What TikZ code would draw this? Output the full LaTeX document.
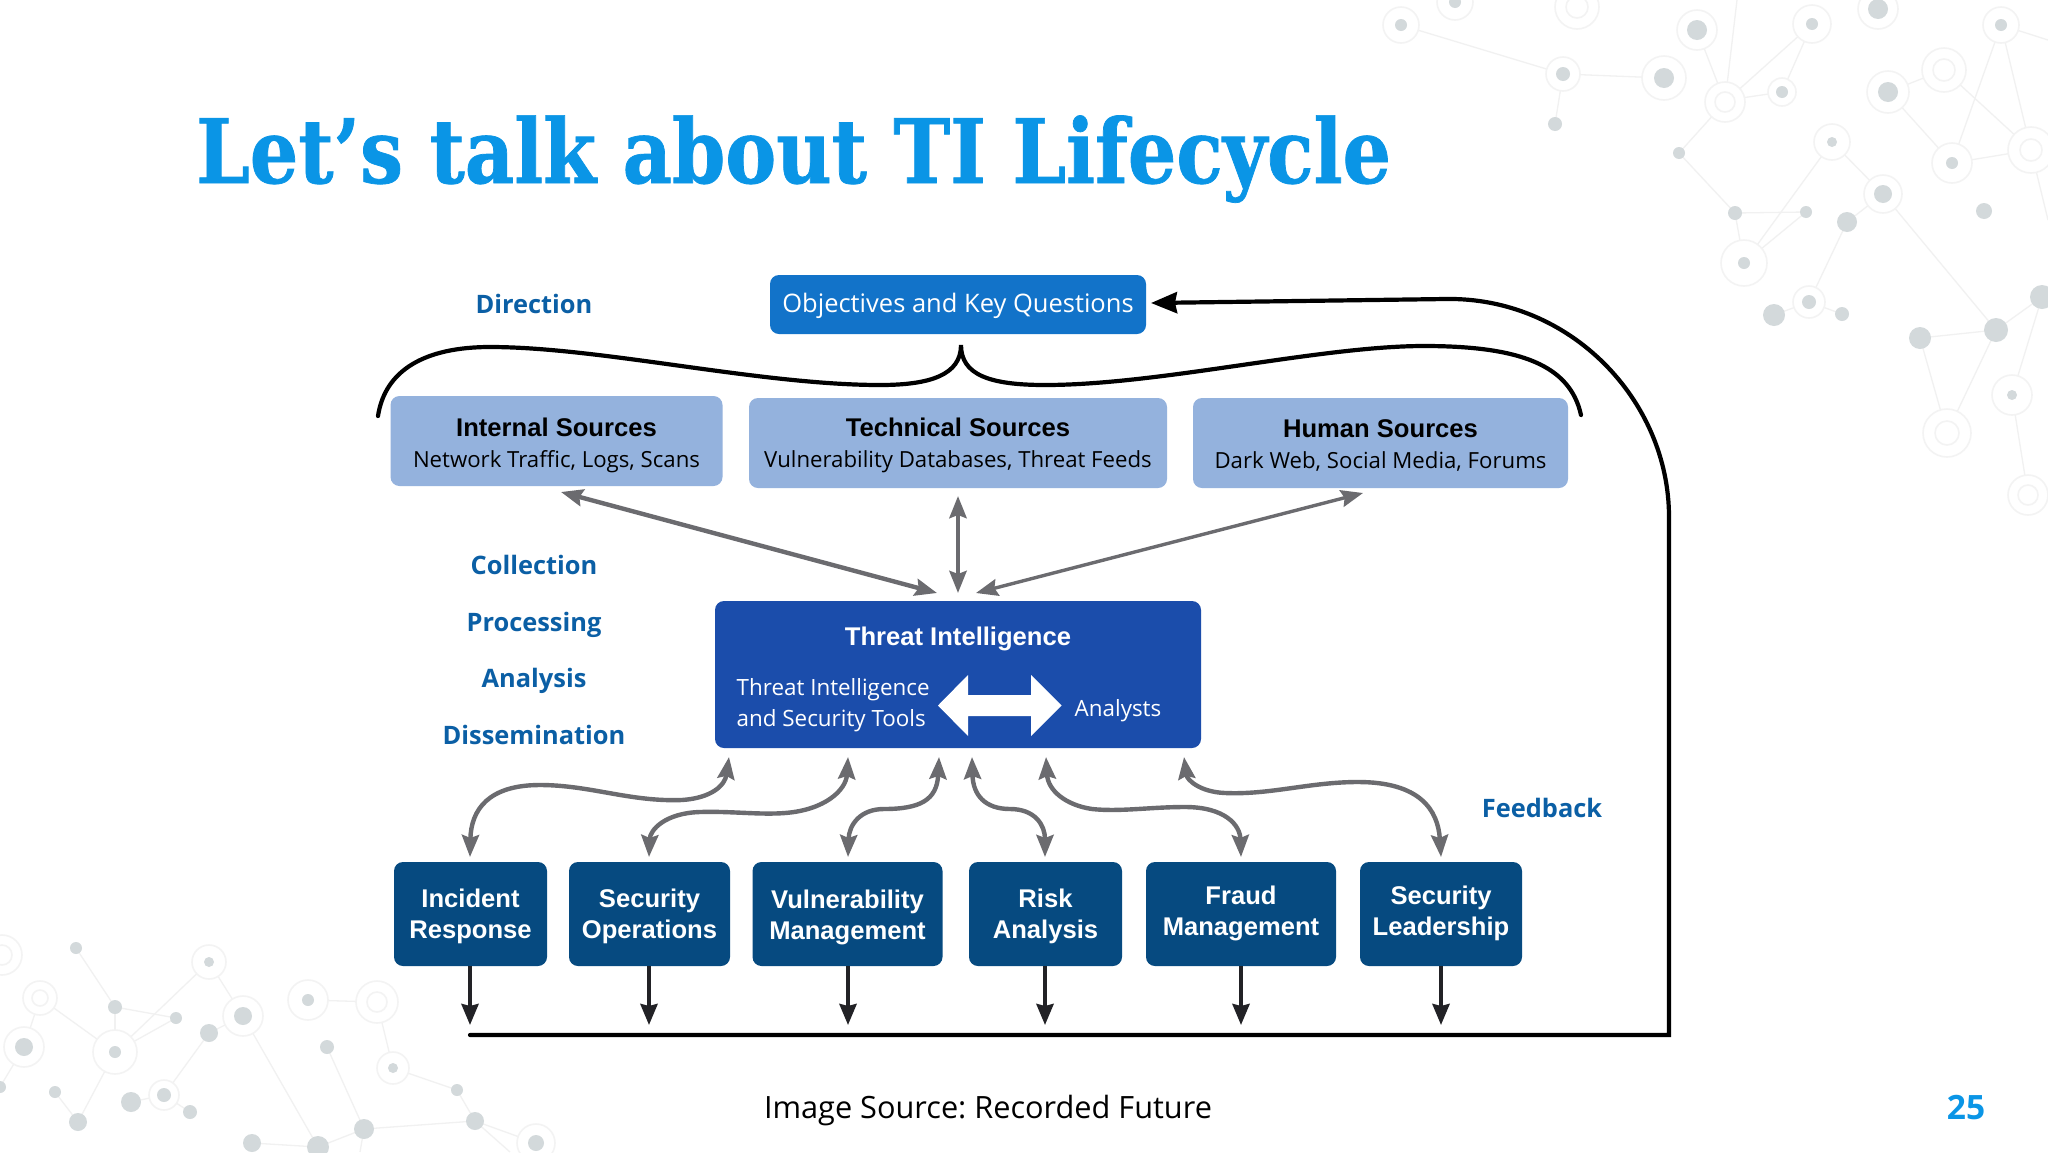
\documentclass[tikz,border=0pt]{standalone}
\usepackage{fontspec}
\setmainfont{Open Sans}
\newfontfamily\titlefont[FakeStretch=0.857,FakeBold=0.8]{DejaVu Serif}
\newfontfamily\helv{Liberation Sans}
\usetikzlibrary{arrows.meta,calc}
\definecolor{titleblue}{HTML}{0A95E6}
\definecolor{labelblue}{HTML}{0B5FA5}
\definecolor{objblue}{HTML}{1273C9}
\definecolor{srcblue}{HTML}{94B2DD}
\definecolor{tiblue}{HTML}{1B4DAB}
\definecolor{funcblue}{HTML}{064A80}
\definecolor{arrgrey}{HTML}{6B6B6F}
\definecolor{arrblack}{HTML}{222226}
\definecolor{netline}{HTML}{F1F1F1}
\definecolor{netring}{HTML}{F3F3F3}
\definecolor{netdot}{HTML}{D3D9DB}
\tikzset{
  x=1pt,y=-1pt,
  box/.style={draw=none,rounded corners=9pt,minimum width=#1,inner sep=0pt,align=center},
  srcbox/.style={fill=srcblue,minimum height=90pt},
  srclabel/.style={text=black,inner sep=0pt,align=center,font=\fontsize{22.2}{31}\selectfont},
  funcbox/.style={fill=funcblue,minimum height=104pt},
  funclabel/.style={text=white,inner sep=0pt,align=center,font=\helv\bfseries\fontsize{25.6}{31}\selectfont},
  stage/.style={text=labelblue,font=\bfseries\fontsize{25.4}{30}\selectfont},
  twoway/.style={draw=arrgrey,line width=4.4pt,{Stealth[length=22pt,width=17pt,inset=3pt]}-{Stealth[length=22pt,width=17pt,inset=3pt]}},
  downarr/.style={draw=arrblack,line width=4pt,-{Stealth[length=21pt,width=17pt,inset=2pt]}},
  loopline/.style={draw=black,line width=4.2pt},
  netedge/.style={draw=netline,line width=1.3pt},
}
\newcommand{\srcnode}[7]{% name, x, y, width, text y, bold line, plain line
  \node[box=#4,srcbox] (#1) at (#2,#3) {};
  \node[srclabel] (#1t) at (#2,#5) {{\helv\bfseries\fontsize{25.6}{31}\selectfont #6}\\#7};
}
\newcommand{\funcnode}[5]{% name, x, width, text y, text
  \node[box=#3,funcbox] (#1) at (#2,914) {};
  \node[funclabel] (#1t) at (#2,#4) {#5};
}
\begin{document}
\frenchspacing
\begin{tikzpicture}
\path[use as bounding box] (0,0) rectangle (2048,1152);
\fill[white] (0,0) rectangle (2048,1152);

% network decoration
\foreach \ax/\ay/\bx/\by in {
 1401/25/1563/74, 1563/74/1664/78, 1563/74/1555/124, 1697/30/1725/102, 1737/0/1725/102,
 1725/102/1812/24, 1728/100/1782/92, 1812/24/1782/92, 1725/102/1679/153, 1679/153/1735/213,
 1735/213/1806/212, 1735/213/1744/263, 1832/142/1744/263, 1806/212/1744/263, 1832/142/1883/194,
 1883/194/1847/222, 1847/222/1809/302, 1883/194/1996/330, 1809/302/1774/315, 1809/302/1842/314,
 1888/92/1944/70, 1888/92/1952/163, 1944/70/2031/150, 1952/163/2031/150, 2001/25/1952/163,
 2001/25/2031/150, 2001/25/2048/40, 2031/150/2048/220, 1996/330/2042/297, 1996/330/1920/338,
 1920/338/1947/433, 1996/330/1947/433, 2042/297/2012/395, 2012/395/2028/495,
 76/948/115/1007, 115/1007/176/1018, 115/1007/115/1052, 209/962/115/1052, 176/1018/115/1052,
 40/998/115/1052, 209/962/243/1016, 243/1016/209/1033, 209/1033/164/1095, 164/1095/131/1102,
 164/1095/190/1112, 115/1052/78/1122, 78/1122/55/1092, 24/1047/40/998, 24/1047/0/1087,
 308/1000/377/1002, 377/1002/393/1068, 393/1068/457/1090, 457/1090/475/1121, 475/1121/364/1129,
 364/1129/327/1047, 364/1129/318/1147, 318/1147/252/1143, 243/1016/318/1147, 475/1121/536/1143,
 475/1121/510/1152, 364/1129/360/1152}
 {\draw[netedge] (\ax,\ay) -- (\bx,\by);}
% x/y/ring/dot/inner
\foreach \cx/\cy/\cr/\cd/\ci in {
 1401/25/18/6/0, 1455/2/18/6/0, 1577/7/22/0/11, 1563/74/17/7/0, 1555/124/0/7/0, 1664/78/22/10/0,
 1697/30/20/10/0, 1725/102/20/0/10, 1812/24/19/6/0, 1782/92/14/6/0, 1878/9/20/10/0, 2001/25/18/6/0,
 1944/70/22/0/11, 1888/92/21/10/0, 2031/150/23/0/11, 1952/163/20/6/0, 1679/153/0/6/0, 1832/142/18/5/0,
 1883/194/19/9/0, 1847/222/0/10/0, 1735/213/0/7/0, 1806/212/0/6/0, 1744/263/23/6/0, 1774/315/0/11/0,
 1809/302/16/7/0, 1842/314/0/7/0, 1984/211/0/8/0, 2042/297/0/12/0, 1996/330/0/12/0, 1920/338/0/11/0,
 2012/395/20/5/0, 1947/433/24/0/12, 2028/495/20/0/10,
 2/955/20/0/10, 76/948/0/6/0, 209/962/17/5/0, 40/998/17/0/8, 115/1007/0/7/0, 176/1018/0/6/0,
 243/1016/20/9/0, 308/1000/20/6/0, 377/1002/21/0/10, 24/1047/20/9/0, 115/1052/22/6/0, 209/1033/0/9/0,
 327/1047/0/7/0, 393/1068/16/5/0, 0/1087/0/6/0, 55/1092/0/6/0, 131/1102/0/10/0, 164/1095/15/7/0,
 190/1112/0/7/0, 78/1122/0/9/0, 457/1090/0/6/0, 364/1129/0/10/0, 475/1121/0/9/0, 318/1147/0/11/0,
 252/1143/0/9/0, 536/1143/19/8/0}
 {\ifnum\cr>0 \fill[white] (\cx,\cy) circle (\cr); \draw[netring,line width=1.6pt] (\cx,\cy) circle (\cr);\fi
  \ifnum\ci>0 \draw[netring,line width=1.6pt] (\cx,\cy) circle (\ci);\fi
  \ifnum\cd>0 \fill[netdot] (\cx,\cy) circle (\cd);\fi}

% title, footer
\node[anchor=base west,inner sep=0pt,text=titleblue,font=\titlefont\bfseries\fontsize{89}{100}\selectfont] (title) at (196,183) {Let’s talk about TI Lifecycle};
\node[font=\fontsize{30.7}{36}\selectfont,text=black,inner sep=0pt] (source) at (988,1110.5) {Image Source: Recorded Future};
\node[font=\bfseries\fontsize{33.5}{36}\selectfont,text=titleblue,inner sep=0pt] (pageno) at (1966,1108) {25};

% stage labels
\node[stage] (direction) at (534,304) {Direction};
\node[stage] (collection) at (534,565) {Collection};
\node[stage] (processing) at (534,624.5) {Processing};
\node[stage] (analysis) at (534,680.5) {Analysis};
\node[stage] (dissemination) at (534,735) {Dissemination};
\node[stage] (feedback) at (1542,808) {Feedback};

% boxes
\node[box=376pt,minimum height=59pt,fill=objblue] (obj) at (958,304.5) {};
\node[text=white,inner sep=0pt,font=\fontsize{25.5}{31}\selectfont] (objt) at (958,305.5) {Objectives and Key Questions};
\srcnode{internal}{556.5}{441}{332}{445}{Internal Sources}{Network Traffic, Logs, Scans}
\srcnode{technical}{958}{443}{418}{445.6}{Technical Sources}{Vulnerability Databases, Threat Feeds}
\srcnode{human}{1380.5}{443}{375}{445.6}{Human Sources}{Dark Web, Social Media, Forums}
\node[box=486pt,minimum height=147pt,fill=tiblue] (ti) at (958,674.5) {};
\node[anchor=center,text=white,inner sep=0pt,font=\helv\bfseries\fontsize{25.6}{31}\selectfont] (tititle) at (958,638.6) {Threat Intelligence};
\node[anchor=west,text=white,inner sep=0pt,align=left,font=\fontsize{22.4}{31}\selectfont] (titools) at (736.5,705.6) {Threat Intelligence\\and Security Tools};
\node[text=white,inner sep=0pt,font=\fontsize{22.4}{31}\selectfont] (analysts) at (1118,710.6) {Analysts};
\fill[white] (938,705.5) -- (968,675) -- (968,695) -- (1031,695) -- (1031,675) -- (1061.5,705.5) -- (1031,736) -- (1031,716) -- (968,716) -- (968,736) -- cycle;

\funcnode{ir}{470.5}{153pt}{916}{Incident\\Response}
\funcnode{secops}{649.5}{161pt}{916}{Security\\Operations}
\funcnode{vuln}{847.5}{190pt}{917.2}{Vulnerability\\Management}
\funcnode{risk}{1045.5}{153pt}{916}{Risk\\Analysis}
\funcnode{fraud}{1241}{190pt}{913.3}{Fraud\\Management}
\funcnode{lead}{1441}{162pt}{913.3}{Security\\Leadership}

% endpoints of connectors
\coordinate (tiL) at (937,593);
\coordinate (tiC) at (958,593);
\coordinate (tiR) at (976,593);
\coordinate (srcL) at (561,492);
\coordinate (srcC) at (958,496);
\coordinate (srcR) at (1363,493);
\foreach \n/\x in {ir/470,secops/649,vuln/848,risk/1045,fraud/1241,lead/1441}{
  \coordinate (\n up) at (\x,857);
  \coordinate (\n top) at (\x,966);
  \coordinate (\n bot) at (\x,1025);
}
\foreach \n/\x in {a/729,b/848,c/939,d/972,e/1046,f/1184}{\coordinate (in\n) at (\x,757);}
\coordinate (busL) at (470,1035);
\coordinate (busC) at (1669,1035);
\coordinate (busU) at (1669,517);
\coordinate (loopT) at (1446,299);
\coordinate (objin) at (1151,303);
\coordinate (brL) at (378,416);
\coordinate (brTip) at (961,345);
\coordinate (brR) at (1581,415);

% source <-> TI arrows
\draw[twoway] (srcL) -- (tiL);
\draw[twoway] (srcC) -- (tiC);
\draw[twoway,line width=3.4pt] (srcR) -- (tiR);

% TI <-> functions
\draw[twoway] (irup) .. controls (471,810) and (488,785) .. (540,785) .. controls (590,785) and (630,802) .. (682,800) .. controls (712,798) and (725,785) .. (ina);
\draw[twoway] (secopsup) .. controls (650,830) and (665,813) .. (700,812) .. controls (730,811) and (760,815) .. (785,813) .. controls (825,810) and (846,790) .. (inb);
\draw[twoway] (vulnup) .. controls (849,825) and (860,809) .. (884,809) .. controls (920,809) and (937,800) .. (inc);
\draw[twoway] (riskup) .. controls (1045,825) and (1035,809) .. (1010,809) .. controls (985,809) and (973,795) .. (ind);
\draw[twoway] (fraudup) .. controls (1240,825) and (1225,807) .. (1185,807) .. controls (1150,807) and (1120,812) .. (1092,809) .. controls (1065,805) and (1048,790) .. (ine);
\draw[twoway] (leadup) .. controls (1438,810) and (1420,782) .. (1358,782) .. controls (1310,782) and (1270,795) .. (1225,793) .. controls (1200,792) and (1187,780) .. (inf);

% functions -> bus
\foreach \n in {ir,secops,vuln,risk,fraud,lead}{\draw[downarr] (\n top) -- (\n bot);}

% feedback loop
\draw[loopline,line cap=round,-{Stealth[length=26pt,width=21pt,inset=2pt]}] (busL) -- (busC) -- (busU) .. controls (1669,400) and (1570,297) .. (loopT) -- (objin);

% brace
\draw[loopline,line cap=round] (brL) .. controls (385,370) and (425,347) .. (490,347) .. controls (600,347) and (760,385) .. (880,385) .. controls (930,385) and (961,375) .. (brTip) .. controls (961,375) and (990,385) .. (1045,385) .. controls (1160,385) and (1320,346) .. (1424,346) .. controls (1520,346) and (1570,365) .. (brR);
\end{tikzpicture}
\end{document}
